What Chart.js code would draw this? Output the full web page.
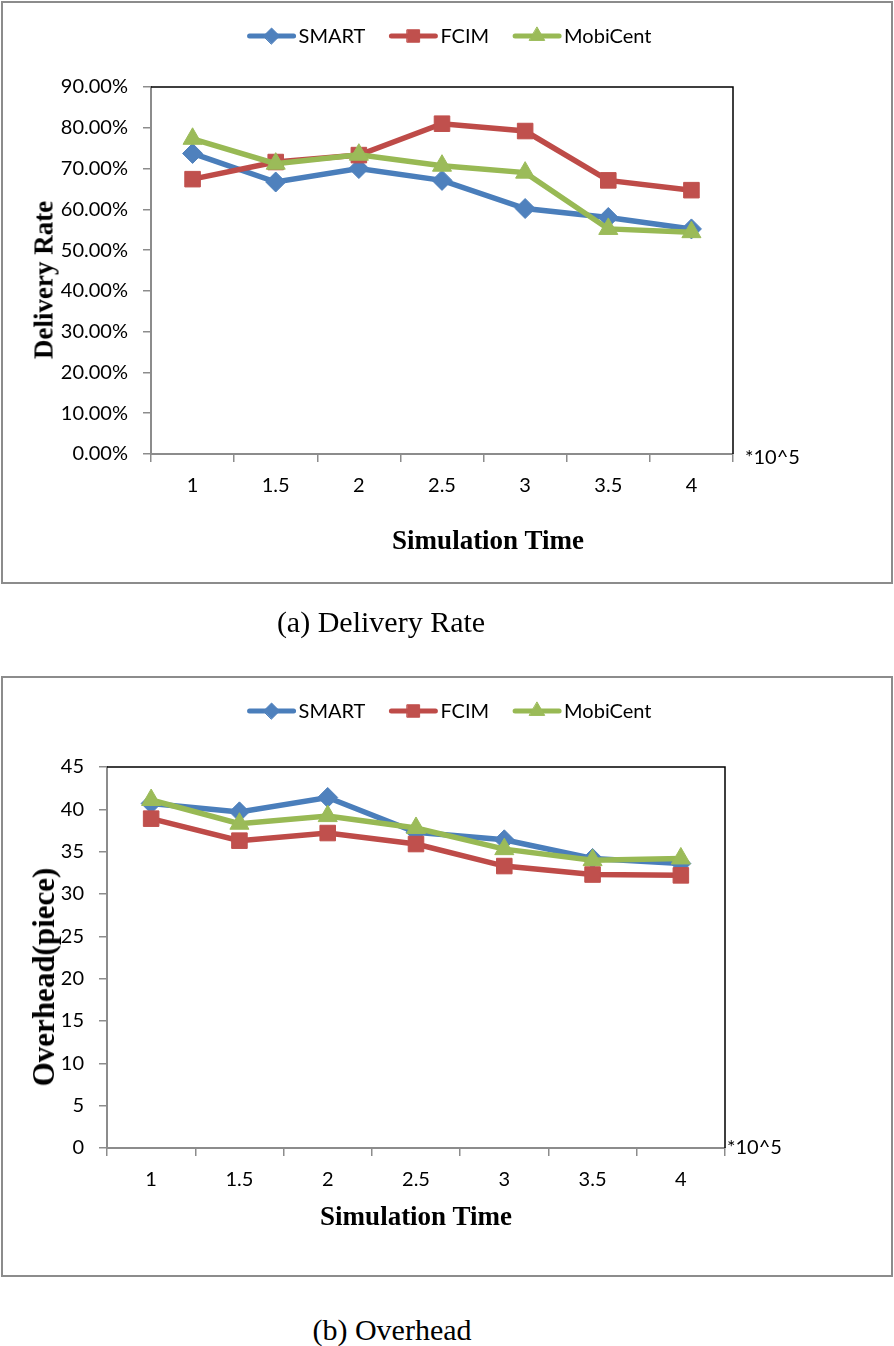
<!DOCTYPE html>
<html>
<head>
<meta charset="utf-8">
<script src="https://cdn.jsdelivr.net/npm/chart.js@4/dist/chart.umd.min.js"></script>
<style>
  html, body { margin: 0; padding: 0; background: #fff; }
  body { position: relative; width: 894px; height: 1346px; overflow: hidden; }
  .box { position: absolute; box-sizing: border-box; border: 2px solid #8c8c8c; }
  canvas { position: absolute; left: 0; }
  .txt { position: absolute; white-space: nowrap; transform: translate(-50%, -50%); color: #000; }
  .axt { font: bold 27px "Liberation Serif", "Times New Roman", serif; }
  .roty { transform: translate(-50%, -50%) rotate(-90deg); }
  .cap { font: 30px "Liberation Serif", "Times New Roman", serif; }
  .unit { font: 20px Lato, sans-serif; transform: translate(0, -50%); }
</style>
</head>
<body>
<div class="box" style="left:1px; top:1px; width:892px; height:583px;"></div>
<div class="box" style="left:1px; top:676px; width:892px; height:601px;"></div>

<canvas id="delivery-chart" width="894" height="590" style="top:0px;"></canvas>
<canvas id="overhead-chart" width="894" height="700" style="top:600px;"></canvas>

<div class="txt axt" style="left:488px; top:540px;">Simulation Time</div>
<div class="txt axt roty" style="left:44px; top:280px;">Delivery Rate</div>
<div class="txt unit" style="left:745px; top:456px;">*10^5</div>
<div class="txt cap" style="left:381px; top:622px;">(a) Delivery Rate</div>

<div class="txt axt" style="left:416px; top:1216px;">Simulation Time</div>
<div class="txt axt roty" style="left:44px; top:977px; font-size:31px;">Overhead(piece)</div>
<div class="txt unit" style="left:727px; top:1146px;">*10^5</div>
<div class="txt cap" style="left:392px; top:1330px;">(b) Overhead</div>

<script>
// simulation time (*10^5)
var simTimes = ['1', '1.5', '2', '2.5', '3', '3.5', '4'];

// delivery rate, percent
var deliverySmart = [73.7, 66.7, 70.0, 67.1, 60.2, 58.0, 55.2];
var deliveryFcim  = [67.4, 71.6, 73.3, 81.0, 79.2, 67.1, 64.7];
var deliveryMobi  = [77.3, 71.2, 73.4, 70.7, 69.0, 55.2, 54.4];

// overhead, pieces
var overheadSmart = [40.7, 39.7, 41.4, 37.3, 36.4, 34.2, 33.6];
var overheadFcim  = [38.9, 36.3, 37.2, 35.9, 33.3, 32.3, 32.2];
var overheadMobi  = [41.1, 38.3, 39.2, 37.8, 35.3, 34.0, 34.2];

Chart.defaults.font.family = 'Lato, sans-serif';
Chart.defaults.font.size = 20;
Chart.defaults.color = '#000';

function series(label, data, line, fill, style, radius, order) {
  return {
    label: label,
    data: data,
    order: order,
    borderColor: line,
    borderWidth: 5.5,
    backgroundColor: fill,
    pointStyle: style,
    pointRadius: radius,
    pointHoverRadius: radius,
    pointBackgroundColor: fill,
    pointBorderColor: fill,
    pointBorderWidth: 1,
    tension: 0
  };
}

// later series sit on top, like the excel original
function makeSets(smart, fcim, mobi) {
  return [
    series('SMART', smart, '#4A7EBB', '#4F81BD', 'rectRot', 10, 2),
    series('FCIM', fcim, '#BE4B48', '#C0504D', 'rect', 11, 1),
    series('MobiCent', mobi, '#98B954', '#9BBB59', 'triangle', 11, 0)
  ];
}

// legend: line with marker, then the label
var lineLegend = {
  id: 'lineLegend',
  afterDraw: function(chart, args, opts) {
    var ctx = chart.ctx;
    ctx.save();
    ctx.font = '20px Lato, sans-serif';
    ctx.textBaseline = 'middle';
    ctx.textAlign = 'left';
    var sets = chart.data.datasets;
    var widths = sets.map(function(ds) { return 51 + ctx.measureText(ds.label).width; });
    var total = widths.reduce(function(a, b) { return a + b; }, 0) + 24 * (sets.length - 1);
    var x = opts.cx - total / 2;
    sets.forEach(function(ds, i) {
      ctx.strokeStyle = ds.borderColor;
      ctx.lineWidth = 5;
      ctx.lineCap = 'round';
      ctx.beginPath();
      ctx.moveTo(x + 2, opts.y);
      ctx.lineTo(x + 46, opts.y);
      ctx.stroke();
      ctx.fillStyle = ds.pointBackgroundColor;
      ctx.strokeStyle = ds.pointBorderColor;
      ctx.lineWidth = 1;
      Chart.helpers.drawPoint(ctx, {pointStyle: ds.pointStyle, radius: ds.pointRadius * 0.8, rotation: 0, borderWidth: 1}, x + 24, opts.y);
      ctx.fillStyle = '#000';
      ctx.fillText(ds.label, x + 51, opts.y + 1);
      x += widths[i] + 24;
    });
    ctx.restore();
  }
};

// black top and right edge of the plot area
var plotFrame = {
  id: 'plotFrame',
  beforeDatasetsDraw: function(chart) {
    var a = chart.chartArea, ctx = chart.ctx;
    ctx.save();
    ctx.strokeStyle = '#000';
    ctx.lineWidth = 1.5;
    ctx.beginPath();
    ctx.moveTo(a.left, a.top);
    ctx.lineTo(a.right, a.top);
    ctx.lineTo(a.right, a.bottom);
    ctx.stroke();
    ctx.restore();
  }
};

function makeOptions(yMax, yStep, yWidth, pad, legendY, fmt) {
  return {
    responsive: false,
    animation: false,
    devicePixelRatio: 1,
    layout: { padding: pad },
    plugins: {
      legend: { display: false },
      tooltip: { enabled: false },
      lineLegend: { cx: 449.5, y: legendY }
    },
    scales: {
      x: {
        offset: true,
        grid: { offset: true, drawOnChartArea: false, drawTicks: true, tickLength: 8, color: '#8c8c8c', lineWidth: 1.5 },
        border: { color: '#8c8c8c', width: 2 },
        ticks: { padding: 12, maxRotation: 0 },
        afterFit: function(s) { s.height = 50; }
      },
      y: {
        min: 0,
        max: yMax,
        grid: { drawOnChartArea: false, drawTicks: true, tickLength: 8, color: '#8c8c8c', lineWidth: 1.5 },
        border: { color: '#8c8c8c', width: 2 },
        ticks: { stepSize: yStep, padding: 15, callback: fmt },
        afterFit: function(s) { s.width = yWidth; }
      }
    }
  };
}

var deliveryChart = new Chart(document.getElementById('delivery-chart').getContext('2d'), {
  type: 'line',
  data: { labels: simTimes, datasets: makeSets(deliverySmart, deliveryFcim, deliveryMobi) },
  options: makeOptions(90, 10, 151, {left: 0, top: 87, right: 161, bottom: 86}, 36,
    function(v) { return v.toFixed(2) + '%'; }),
  plugins: [lineLegend, plotFrame]
});

var overheadChart = new Chart(document.getElementById('overhead-chart').getContext('2d'), {
  type: 'line',
  data: { labels: simTimes, datasets: makeSets(overheadSmart, overheadFcim, overheadMobi) },
  options: makeOptions(45, 5, 107, {left: 0, top: 167, right: 169, bottom: 102}, 111,
    function(v) { return v; }),
  plugins: [lineLegend, plotFrame]
});
</script>
</body>
</html>
